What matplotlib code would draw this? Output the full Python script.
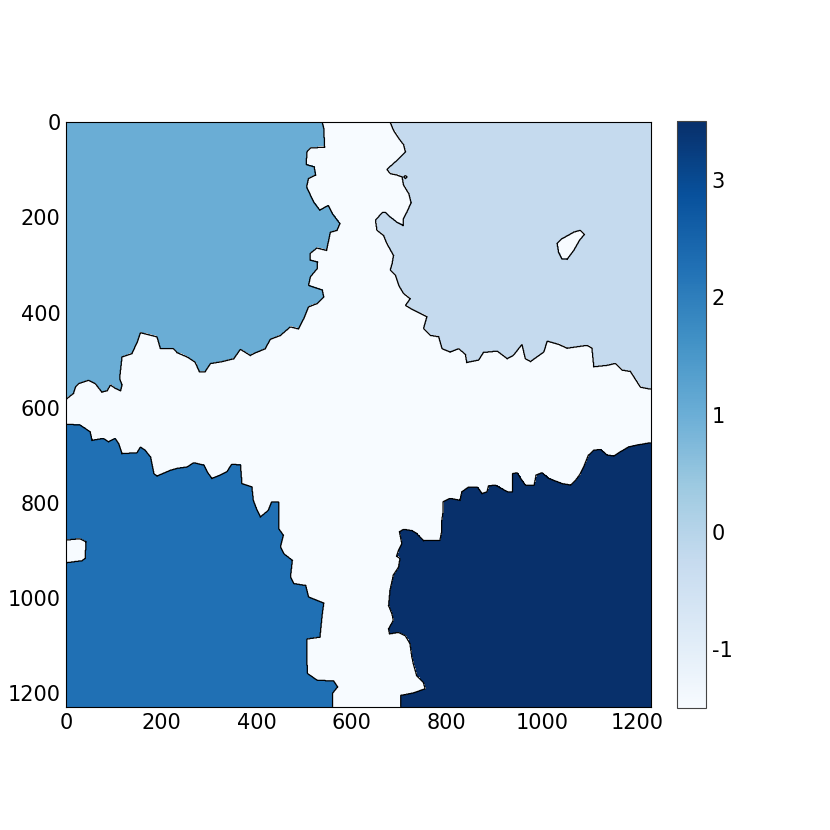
import matplotlib
matplotlib.use("Agg")
import matplotlib.pyplot as plt
import numpy as np
from matplotlib.path import Path
from matplotlib.cm import ScalarMappable
from matplotlib.colors import Normalize

plt.rcParams['axes.unicode_minus'] = False

IMG_SIZE = 1230

# region outlines (image coords: x right, y down)
# label 1, top left
tl_x = [-20, 533, 541, 543, 513, 506, 504, 521, 524, 509, 505, 520, 533, 551, 559, 575, 569, 555, 547,
        527, 512, 512, 528, 527, 513, 509, 538, 541, 527, 509, 499, 488, 471, 450, 429, 418, 394, 387,
        366, 352, 327, 303, 292, 280, 271, 254, 233, 226, 198, 191, 156, 149, 138, 117, 112, 117, 114,
        103, 93, 86, 75, 61, 47, 26, 19, 15, 1, -20]
tl_y = [-20, -20, 13, 52, 54, 62, 89, 94, 111, 118, 136, 168, 185, 175, 192, 213, 227, 231, 269,
        264, 276, 290, 294, 308, 325, 343, 353, 367, 381, 388, 413, 434, 430, 448, 456, 476, 486, 490,
        477, 497, 503, 507, 524, 524, 504, 493, 484, 476, 475, 451, 442, 462, 486, 493, 539, 552, 564,
        559, 552, 564, 567, 549, 542, 549, 557, 570, 581, 585]

# label 0, top right
tr_x = [681, 688, 699, 709, 713, 702, 692, 674, 681, 695, 706, 709, 720, 725, 716, 709, 708, 695, 681,
        671, 664, 650, 653, 667, 674, 688, 685, 681, 692, 699, 709, 723, 713, 730, 758, 751, 765, 783,
        790, 807, 825, 839, 842, 867, 877, 906, 927, 940, 958, 965, 976, 1004, 1011, 1035, 1053, 1095,
        1105, 1109, 1137, 1154, 1168, 1186, 1200, 1207, 1228, 1250, 1250, 681]
tr_y = [0, 17, 34, 47, 62, 73, 83, 99, 108, 111, 115, 132, 150, 169, 189, 202, 217, 210, 199,
        189, 190, 206, 227, 238, 255, 280, 297, 311, 322, 343, 360, 371, 385, 395, 409, 434, 448, 451,
        476, 483, 476, 488, 505, 500, 484, 481, 497, 490, 467, 497, 503, 483, 460, 467, 475, 469,
        475, 514, 511, 507, 521, 524, 546, 557, 561, 562, -20, -20]

# label 2, bottom left
bl_x = [-20, 1, 29, 40, 50, 54, 78, 89, 103, 110, 117, 149, 156, 166, 177, 184, 191, 219, 233, 254,
        268, 289, 296, 306, 324, 338, 348, 366, 369, 390, 393, 401, 408, 425, 432, 446, 446, 446, 456,
        450, 457, 475, 471, 478, 503, 509, 541, 538, 533, 506, 505, 507, 527, 562, 570, 559, 559, -20]
bl_y = [635, 635, 637, 644, 651, 669, 665, 672, 665, 676, 697, 695, 683, 690, 704, 739, 744, 732, 728, 725,
        716, 721, 735, 749, 742, 735, 719, 721, 760, 767, 795, 816, 830, 816, 798, 798, 823, 854, 868,
        893, 907, 921, 956, 970, 974, 998, 1011, 1033, 1082, 1086, 1124, 1159, 1173, 1175, 1187, 1201, 1250, 1250]

# label 3, bottom right
br_x = [704, 704, 730, 755, 751, 737, 730, 727, 723, 713, 699, 680, 678, 688, 685, 678, 681, 688, 699,
        702, 695, 699, 706, 701, 709, 727, 737, 751, 786, 790, 790, 793, 793, 807, 828, 832, 846, 864,
        874, 885, 888, 902, 927, 939, 939, 948, 955, 965, 984, 988, 1000, 1014, 1032, 1042, 1060, 1070,
        1081, 1088, 1098, 1109, 1123, 1137, 1151, 1165, 1182, 1200, 1228, 1250, 1250]
br_y = [1250, 1205, 1200, 1191, 1177, 1163, 1138, 1124, 1096, 1079, 1072, 1075, 1065, 1047, 1033, 1016, 984, 952, 935,
        917, 912, 900, 886, 861, 856, 859, 865, 880, 879, 858, 837, 816, 798, 791, 795, 777, 767, 767,
        781, 777, 765, 763, 777, 777, 739, 737, 749, 763, 763, 742, 737, 749, 756, 760, 763, 754,
        739, 725, 700, 690, 688, 700, 702, 693, 683, 679, 674, 674, 1250]

# background (-1) holes inside the regions
hole_tr_x = [1032, 1042, 1067, 1081, 1089, 1079, 1067, 1053, 1042, 1035]
hole_tr_y = [255, 245, 231, 227, 236, 248, 269, 288, 287, 273]
hole_bl_x = [-20, 29, 42, 40, 33, -20]
hole_bl_y = [880, 875, 882, 917, 922, 929]
dot_x = [710, 713, 716, 713]
dot_y = [115, 112, 115, 118]

regions = [(tl_x, tl_y, 1), (tr_x, tr_y, 0), (bl_x, bl_y, 2), (br_x, br_y, 3),
           (hole_tr_x, hole_tr_y, -1), (hole_bl_x, hole_bl_y, -1), (dot_x, dot_y, -1)]

labels = np.full((IMG_SIZE, IMG_SIZE), -1.0)
yy, xx = np.mgrid[0:IMG_SIZE, 0:IMG_SIZE]
pts = np.column_stack([xx.ravel(), yy.ravel()])
for px, py, val in regions:
    inside = Path(np.column_stack([px, py])).contains_points(pts).reshape(labels.shape)
    labels[inside] = val

fig = plt.figure(figsize=(8.3, 8.3), dpi=100)
ax = fig.add_axes([0.0795, 0.148, 0.705, 0.705])
ax.imshow(labels, cmap='Blues', vmin=-1, vmax=3, interpolation='nearest')
ax.contour(labels, levels=[-0.5], colors='black', linewidths=0.9, linestyles='solid')
ax.set_xlim(-0.5, IMG_SIZE - 0.5)
ax.set_ylim(IMG_SIZE - 0.5, -0.5)
ax.set_xticks(range(0, 1201, 200))
ax.set_yticks(range(0, 1201, 200))
ax.tick_params(length=0, labelsize=15, pad=4)

cax = fig.add_axes([0.8157, 0.147, 0.035, 0.707])
sm = ScalarMappable(norm=Normalize(-1.5, 3.5), cmap='Blues')
cb = fig.colorbar(sm, cax=cax, ticks=[-1, 0, 1, 2, 3])
cb.ax.tick_params(length=0, labelsize=15, pad=4)
cb.outline.set_edgecolor('#444444')

fig.savefig('out.png', dpi=100)
